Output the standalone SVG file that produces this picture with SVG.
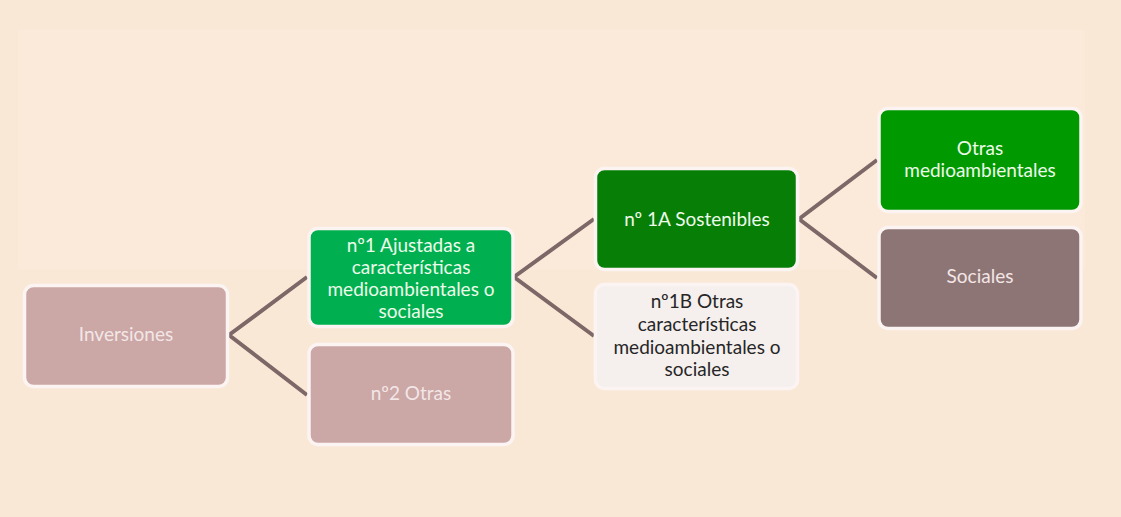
<svg xmlns="http://www.w3.org/2000/svg" width="1121" height="517" viewBox="0 0 1121 517">
<style>
.box{stroke:#FBF4F2;stroke-width:3.5}
.t{font-family:Lato,"Open Sans",sans-serif;font-size:19px;text-anchor:middle}
.lt{fill:#F3E6E6}
.gt{fill:#EEFBEA}
.dt{fill:#262626}
.c{stroke:#7D6767;stroke-width:4;fill:none;stroke-linejoin:miter}
</style>
<rect width="1121" height="517" fill="#FAE8D7"/>
<rect x="18" y="30" width="1067" height="240" fill="#FBEADA"/>
<g id="connectors">
<path class="c" d="M307,277 L229,335 L307,395"/>
<path class="c" d="M594,219 L514,277 L594,336"/>
<path class="c" d="M877,160 L799,219 L877,278"/>
</g>
<g id="inversiones">
<rect class="box" x="24.5" y="285.5" width="203" height="101" rx="9" fill="#CBA7A6"/>
<text class="t lt" x="126" y="341">Inversiones</text>
</g>
<g id="n1">
<rect class="box" x="309" y="228.5" width="204" height="98" rx="9" fill="#00B050"/>
<text class="t gt" x="411" y="252">nº1 Ajustadas a</text>
<text class="t gt" x="411" y="274">características</text>
<text class="t gt" x="411" y="296">medioambientales o</text>
<text class="t gt" x="411" y="318">sociales</text>
</g>
<g id="n2">
<rect class="box" x="309" y="344.5" width="204" height="100" rx="9" fill="#CBA7A6"/>
<text class="t lt" x="411" y="400">nº2 Otras</text>
</g>
<g id="n1a">
<rect class="box" x="595.5" y="168.5" width="202" height="101" rx="9" fill="#077F07"/>
<text class="t gt" x="697" y="226">nº 1A Sostenibles</text>
</g>
<g id="n1b">
<rect class="box" x="595.5" y="284.5" width="202" height="104" rx="9" fill="#F5EFEE"/>
<text class="t dt" x="697" y="308">nº1B Otras</text>
<text class="t dt" x="697" y="331">características</text>
<text class="t dt" x="697" y="354">medioambientales o</text>
<text class="t dt" x="697" y="376">sociales</text>
</g>
<g id="otras-medio">
<rect class="box" x="879" y="108.5" width="202" height="103" rx="9" fill="#009A00"/>
<text class="t gt" x="980" y="155">Otras</text>
<text class="t gt" x="980" y="177">medioambientales</text>
</g>
<g id="sociales">
<rect class="box" x="879" y="227.5" width="202" height="101" rx="9" fill="#8E7575"/>
<text class="t lt" x="980" y="283">Sociales</text>
</g>
</svg>
